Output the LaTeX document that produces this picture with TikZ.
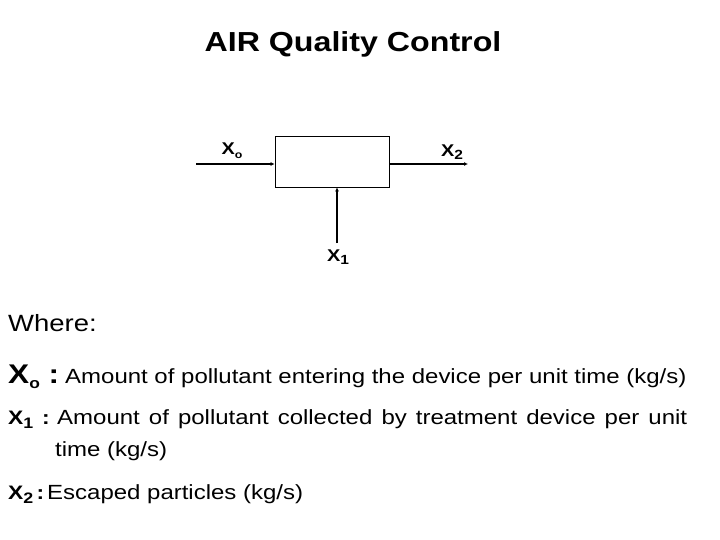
\documentclass[tikz,border=0pt]{standalone}
\usepackage{fontspec}
\setmainfont[FakeStretch=1.17]{Liberation Sans}
\usetikzlibrary{arrows.meta}

\newcommand{\Xsub}[2][0.78]{X\raisebox{-0.4ex}{\scalebox{#1}{#2}}}

\begin{document}
\begin{tikzpicture}[x=1pt, y=-1pt]
    \useasboundingbox (0,0) rectangle (720,540);

    \tikzset{TitleStyle/.style={font=\bfseries\fontsize{27.5}{30}\selectfont, inner sep=0}}
    \node[TitleStyle, anchor=base] (title) at (353,52) {AIR Quality Control};

    % the device and its flows
    \tikzset{BoxStyle/.style={draw, line width=0.8pt, minimum width=114pt, minimum height=51pt, inner sep=0}}
    \node[BoxStyle] (device) at (332,161.5) {};

    \coordinate (in) at (196,164);
    \coordinate (out) at (468,164);
    \coordinate (below) at (337,243);

    \tikzset{FlowStyle/.style={line width=1.5pt, -{Latex[length=4pt, width=4pt]}}}
    \draw[FlowStyle] (in) -- (in -| device.west);
    \draw[FlowStyle] (out -| device.east) -- (out);
    \draw[FlowStyle] (below) -- (below |- device.south);

    \tikzset{LabelStyle/.style={font=\bfseries\fontsize{17}{19}\selectfont, inner sep=0}}
    \node[LabelStyle] (xo) at (232,151) {\Xsub[0.62]{o}};
    \node[LabelStyle] (xtwo) at (452,152) {\Xsub{2}};
    \node[LabelStyle] (xone) at (338,257) {\Xsub{1}};

    % legend
    \tikzset{LegendStyle/.style={font=\fontsize{20.5}{24}\selectfont, anchor=base west, inner sep=0},
             SymbolStyle/.style={LegendStyle, font=\bfseries\fontsize{19.5}{22}\selectfont}}
    \node[LegendStyle, font=\fontsize{23.5}{28}\selectfont] (where) at (8,331) {Where:};
    \node[LegendStyle] (defo) at (8,383)
        {\makebox[57pt][l]{\bfseries\fontsize{27}{30}\selectfont\Xsub[0.55]{o} :}Amount of pollutant entering the device per unit time (kg/s)};
    \node[SymbolStyle] (symone) at (8,424) {\makebox[34pt][l]{\Xsub{1}}:};
    \node[LegendStyle] (defone) at (57,424)
        {\makebox[630pt][l]{Amount\hfill of\hfill pollutant\hfill collected\hfill by\hfill treatment\hfill device\hfill per\hfill unit}};
    \node[LegendStyle] (defonemore) at (55,456) {time (kg/s)};
    \node[SymbolStyle] (symtwo) at (8,499) {\makebox[28.5pt][l]{\Xsub{2}}:};
    \node[LegendStyle] (deftwo) at (47,499) {Escaped particles (kg/s)};
\end{tikzpicture}
\end{document}
